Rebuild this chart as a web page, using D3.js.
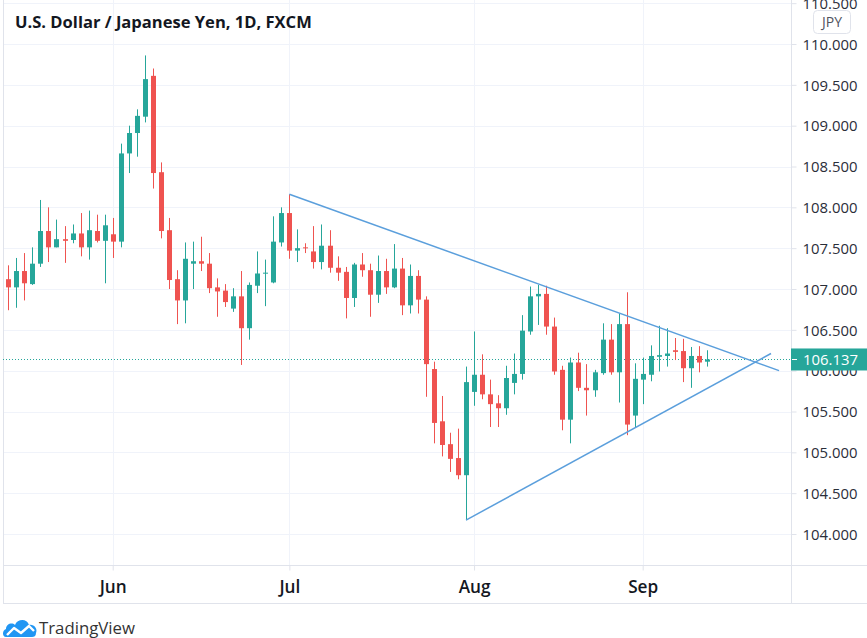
<!DOCTYPE html>
<html><head><meta charset="utf-8">
<script src="https://cdn.jsdelivr.net/npm/d3@7"></script>
<style>html,body{margin:0;padding:0;background:#fff;overflow:hidden}</style>
</head><body>
<svg id="chart" width="867" height="638"></svg>
<script>
// ---------------- DATA ----------------
const title = "U.S. Dollar / Japanese Yen, 1D, FXCM";
const currency = "JPY";
const brand = "TradingView";
const openV  = [107.12,107.02,107.22,107.06,107.31,107.71,107.51,107.61,107.60,107.68,107.51,107.71,107.59,107.67,107.58,108.66,108.91,109.11,109.61,108.43,107.72,107.12,106.86,107.31,107.34,107.31,107.02,106.98,106.76,106.91,106.52,107.04,107.19,107.08,107.57,107.93,107.47,107.51,107.46,107.33,107.53,107.26,107.21,106.89,107.30,107.23,106.93,107.22,107.02,107.25,106.80,107.16,106.87,106.02,105.38,105.10,104.93,104.72,105.74,105.95,105.71,105.60,105.54,105.85,105.96,106.48,106.91,106.94,106.54,106.01,105.40,106.10,105.79,105.76,105.97,106.38,105.98,106.57,105.45,105.89,105.95,106.17,106.18,106.25,106.24,106.03,106.18,106.11];
const highV  = [107.29,107.38,107.44,107.51,108.09,108.00,107.85,107.77,107.79,107.93,107.96,107.91,107.91,107.87,108.78,109.00,109.20,109.86,109.70,108.55,107.87,107.23,107.57,107.58,107.64,107.44,107.13,107.06,107.01,107.22,107.08,107.46,107.36,107.89,108.00,108.16,107.73,107.56,107.77,107.79,107.72,107.40,107.27,107.32,107.44,107.31,107.41,107.37,107.55,107.38,107.30,107.23,106.91,106.11,105.69,105.24,105.29,106.05,106.48,106.20,105.89,105.70,106.06,106.21,106.68,107.03,107.05,107.04,106.65,106.06,106.16,106.22,106.08,106.01,106.58,106.57,106.70,106.96,106.09,106.16,106.31,106.55,106.52,106.40,106.39,106.29,106.30,106.25];
const lowV   = [106.74,106.77,106.86,107.05,107.27,107.33,107.51,107.32,107.56,107.40,107.36,107.57,107.07,107.38,107.51,108.42,108.62,109.04,108.23,107.62,107.00,106.57,106.58,107.00,107.22,106.95,106.66,106.78,106.72,106.07,106.38,106.95,106.79,107.07,107.52,107.37,107.33,107.44,107.25,107.24,107.20,107.10,106.64,106.78,107.15,106.66,106.83,106.94,107.01,106.68,106.70,106.70,105.68,105.11,104.95,104.76,104.67,104.17,105.57,105.65,105.31,105.31,105.46,105.71,105.89,106.44,106.56,106.44,105.95,105.27,105.11,105.75,105.45,105.68,105.95,105.95,105.61,105.21,105.31,105.59,105.87,105.99,106.05,106.13,105.86,105.79,105.98,106.05];
const closeV = [107.02,107.22,107.07,107.31,107.71,107.51,107.61,107.59,107.68,107.51,107.72,107.59,107.78,107.58,108.66,108.91,109.12,109.57,108.42,107.71,107.11,106.86,107.37,107.34,107.31,107.01,106.97,106.84,106.91,106.52,107.05,107.19,107.20,107.58,107.93,107.47,107.50,107.50,107.33,107.53,107.26,107.20,106.89,107.30,107.23,106.93,107.22,107.02,107.25,106.80,107.16,106.87,106.08,105.36,105.09,104.92,104.72,105.86,105.95,105.71,105.59,105.54,105.91,105.96,106.49,106.91,106.94,106.54,105.99,105.40,106.10,105.79,105.76,105.98,106.38,105.98,106.57,105.34,105.90,105.96,106.18,106.19,106.21,106.23,106.03,106.18,106.10,106.137];
const monthLabels = ["Jun","Jul","Aug","Sep"];
const monthIndex  = [13, 35, 58, 79];
const priceTicks  = [104.0,104.5,105.0,105.5,106.0,106.5,107.0,107.5,108.0,108.5,109.0,109.5,110.0,110.5];
const lastPrice   = 106.137;
const upperTrendIdx   = [35, 95.98];
const upperTrendPrice = [108.16, 106.00];
const lowerTrendIdx   = [57, 94.98];
const lowerTrendPrice = [104.17, 106.21];

// ---------------- LAYOUT ----------------
const plotL = 3, plotR = 791, plotB = 565, axisB = 603;
const upColor = "#26a69a", downColor = "#ef5350";
const gridColor = "#f0f3fa", borderColor = "#e0e3eb", textColor = "#2a2e39";
const trendColor = "#5b9fdc";
const fontFam = "'Open Sans','Noto Sans',sans-serif";

const svg = d3.select("#chart");
const x = d3.scaleLinear().domain([-0.66, 97.47]).range([plotL, plotR]);
const y = d3.scaleLinear().domain([104, 110]).range([534, 44]);

function fit(sel, target) {
  const n = sel.node();
  const w = n.getComputedTextLength();
  const fs = parseFloat(sel.attr("font-size"));
  sel.attr("font-size", (fs * target / w).toFixed(2));
}

// background
svg.append("rect").attr("width", 867).attr("height", 638).attr("fill", "#fff");

// grid
const g = svg.append("g");
g.selectAll(".hg").data(priceTicks).join("line")
  .attr("x1", plotL).attr("x2", plotR)
  .attr("y1", d => Math.round(y(d)) + 0.5).attr("y2", d => Math.round(y(d)) + 0.5)
  .attr("stroke", gridColor).attr("stroke-width", 1);
g.selectAll(".vg").data(monthIndex).join("line")
  .attr("x1", d => Math.round(x(d)) + 0.5).attr("x2", d => Math.round(x(d)) + 0.5)
  .attr("y1", 0).attr("y2", plotB)
  .attr("stroke", gridColor).attr("stroke-width", 1);

// frame
const fr = svg.append("g").attr("stroke", borderColor).attr("stroke-width", 1);
fr.append("line").attr("x1", plotL + 0.5).attr("x2", plotL + 0.5).attr("y1", 0).attr("y2", axisB);
fr.append("line").attr("x1", plotR + 0.5).attr("x2", plotR + 0.5).attr("y1", 0).attr("y2", axisB);
fr.append("line").attr("x1", plotL).attr("x2", 867).attr("y1", plotB + 0.5).attr("y2", plotB + 0.5);
fr.append("line").attr("x1", plotL).attr("x2", 867).attr("y1", axisB + 0.5).attr("y2", axisB + 0.5);

// last price dotted line
svg.append("line")
  .attr("x1", plotL).attr("x2", plotR)
  .attr("y1", Math.round(y(lastPrice)) + 0.5).attr("y2", Math.round(y(lastPrice)) + 0.5)
  .attr("stroke", upColor).attr("stroke-width", 1).attr("stroke-dasharray", "1,2");

// candles
const candles = d3.range(openV.length).map(i => ({i, o: openV[i], h: highV[i], l: lowV[i], c: closeV[i]}));
const cg = svg.append("g");
cg.selectAll(".wick").data(candles).join("line")
  .attr("x1", d => Math.round(x(d.i)) + 0.5).attr("x2", d => Math.round(x(d.i)) + 0.5)
  .attr("y1", d => y(d.h)).attr("y2", d => y(d.l))
  .attr("stroke", d => d.c >= d.o ? upColor : downColor).attr("stroke-width", 1);
cg.selectAll(".body").data(candles).join("rect")
  .attr("x", d => Math.round(x(d.i)) - 2)
  .attr("width", 5)
  .attr("y", d => y(Math.max(d.o, d.c)))
  .attr("height", d => Math.max(1, Math.abs(y(d.o) - y(d.c))))
  .attr("fill", d => d.c >= d.o ? upColor : downColor);

// trend lines
const line = d3.line().x(d => x(d[0])).y(d => y(d[1]));
svg.append("path").datum(upperTrendIdx.map((v, k) => [v, upperTrendPrice[k]]))
  .attr("d", line).attr("fill", "none").attr("stroke", trendColor).attr("stroke-width", 1.5);
svg.append("path").datum(lowerTrendIdx.map((v, k) => [v, lowerTrendPrice[k]]))
  .attr("d", line).attr("fill", "none").attr("stroke", trendColor).attr("stroke-width", 1.5);

// right axis
const ya = svg.append("g").attr("transform", `translate(${plotR + 0.5},0)`)
  .call(d3.axisRight(y).tickValues(priceTicks).tickFormat(d3.format(".3f")).tickSize(5).tickPadding(6));
ya.select(".domain").remove();
ya.selectAll(".tick line").attr("stroke", borderColor);
ya.selectAll(".tick text").attr("fill", textColor).attr("font-family", fontFam).attr("font-size", 15).attr("dy", "0.35em");
{
  const t = ya.select(".tick text");
  const w = t.node().getComputedTextLength();
  const fs = 15 * 55 / w;
  ya.selectAll(".tick text").attr("font-size", fs.toFixed(2));
}

// bottom axis
const xa = svg.append("g").attr("transform", `translate(0,${plotB + 0.5})`)
  .call(d3.axisBottom(x).tickValues(monthIndex).tickFormat((d, k) => monthLabels[k]).tickSize(5).tickPadding(6));
xa.select(".domain").remove();
xa.selectAll(".tick line").attr("stroke", borderColor);
xa.selectAll(".tick text").attr("fill", "#131722").attr("font-family", fontFam).attr("font-weight", 600)
  .attr("font-size", 15).attr("y", 21.5).attr("dy", "0.35em");
{
  const t = xa.select(".tick text");
  const w = t.node().getComputedTextLength();
  xa.selectAll(".tick text").attr("font-size", (15 * 27 / w).toFixed(2));
}

// last price label
const ly = y(lastPrice);
svg.append("rect").attr("x", plotR).attr("y", ly - 11).attr("width", 867 - plotR).attr("height", 22).attr("fill", upColor);
svg.append("line").attr("x1", plotR + 1).attr("x2", plotR + 6).attr("y1", Math.round(ly) + 0.5).attr("y2", Math.round(ly) + 0.5)
  .attr("stroke", "#fff");
svg.append("text").attr("x", plotR + 12).attr("y", ly).attr("dy", "0.35em")
  .attr("fill", "#fff").attr("font-family", fontFam)
  .attr("font-size", ya.select(".tick text").attr("font-size"))
  .text(d3.format(".3f")(lastPrice));

// currency badge
svg.append("rect").attr("x", 813.5).attr("y", 10.5).attr("width", 37).attr("height", 23).attr("rx", 4)
  .attr("fill", "#fff").attr("stroke", borderColor);
svg.append("text").attr("x", 832).attr("y", 22).attr("dy", "0.35em").attr("text-anchor", "middle")
  .attr("fill", "#50535e").attr("font-family", fontFam).attr("font-size", 14).text(currency);

// title
const tt = svg.append("text").attr("x", 15).attr("y", 27.5)
  .attr("fill", "#131722").attr("font-family", fontFam).attr("font-weight", 700).attr("font-size", 16).text(title);
fit(tt, 297);

// TradingView brand
const logo = svg.append("g").attr("transform", "translate(3,618)");
logo.append("path")
  .attr("d", "M3,19 C-1,19 -1,12 3,11 C3,6 9,4 12,7 C14,1 24,0 26,7 C31,6 35,11 33,15 C33,18 31,19 29,19 Z")
  .attr("fill", "#2196f3");
logo.append("path").attr("d", "M4,17 L11,10 L18,15 L26,8 L31,13")
  .attr("fill", "none").attr("stroke", "#fff").attr("stroke-width", 2.4).attr("stroke-linejoin", "round");
const bt = svg.append("text").attr("x", 39).attr("y", 634)
  .attr("fill", "#333").attr("font-family", fontFam).attr("font-size", 17).text(brand);
fit(bt, 96);
</script>
</body></html>
